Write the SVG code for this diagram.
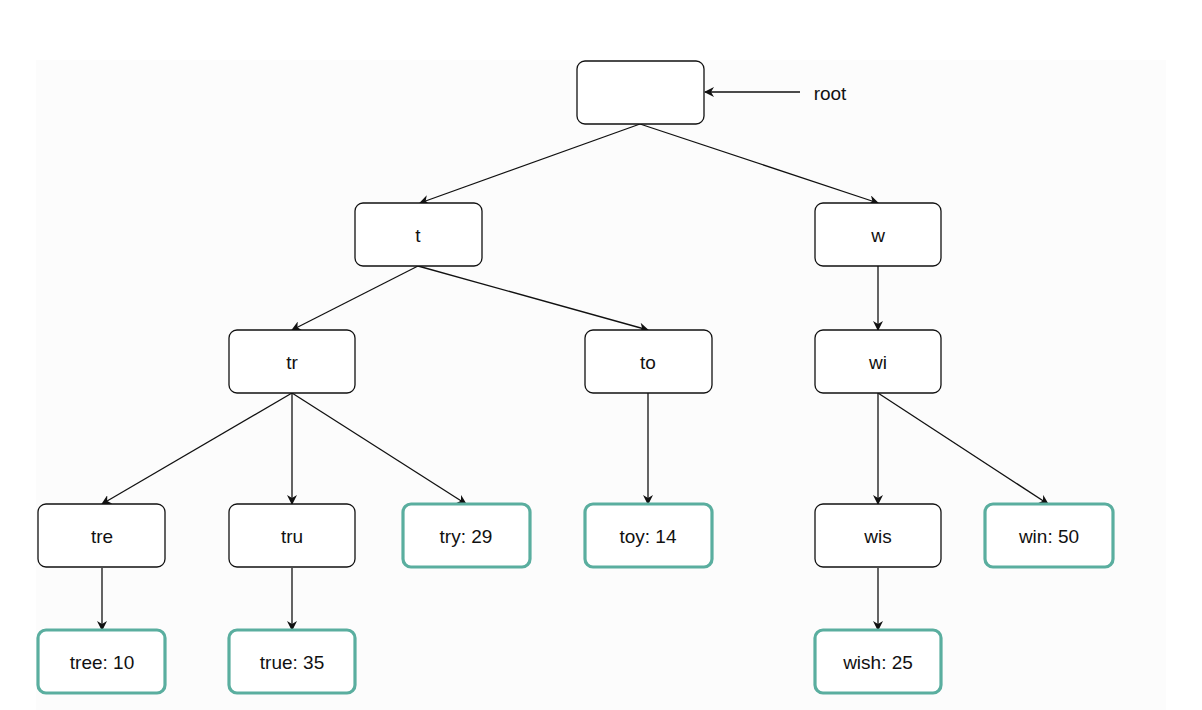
<svg xmlns="http://www.w3.org/2000/svg" width="1202" height="710" viewBox="0 0 1202 710">
<defs>
<marker id="ah" viewBox="0 0 10 10" refX="9" refY="5" markerWidth="10" markerHeight="10" markerUnits="userSpaceOnUse" orient="auto"><path d="M0,0 L10,5 L0,10 L3,5 z" fill="#111"/></marker>
<style>
.n{fill:#fff;stroke:#111;stroke-width:1.3}
.l{fill:#fff;stroke:#5aae9f;stroke-width:3.2}
text{font-family:"Liberation Sans",Arial,sans-serif;font-size:19px;fill:#111;text-anchor:middle;dominant-baseline:central}
.e{stroke:#111;stroke-width:1.3;fill:none;marker-end:url(#ah)}
</style>
</defs>
<rect width="1202" height="710" fill="#fff"/>
<rect x="36" y="60" width="1130" height="650" fill="#fcfcfc"/>
<g id="connectors">
<path class="e" d="M640,124 L420,203"/>
<path class="e" d="M640,124 L878,203"/>
<path class="e" d="M800,92 L705,92"/>
<path class="e" d="M418,266 L292,330"/>
<path class="e" d="M418,266 L648,330"/>
<path class="e" d="M292,393 L102,504"/>
<path class="e" d="M292,393 L292,504"/>
<path class="e" d="M292,393 L466,504"/>
<path class="e" d="M648,393 L648,504"/>
<path class="e" d="M878,266 L878,330"/>
<path class="e" d="M878,393 L878,504"/>
<path class="e" d="M878,393 L1048,504"/>
<path class="e" d="M102,568 L102,630"/>
<path class="e" d="M292,568 L292,630"/>
<path class="e" d="M878,568 L878,630"/>
</g>
<g id="root"><rect class="n" x="577" y="61" width="127" height="63" rx="8"/></g>
<text x="830" y="93">root</text>
<g id="t"><rect class="n" x="355" y="203" width="127" height="63" rx="8"/><text x="418" y="235">t</text></g>
<g id="w"><rect class="n" x="815" y="203" width="126" height="63" rx="8"/><text x="878" y="235">w</text></g>
<g id="tr"><rect class="n" x="229" y="330" width="126" height="63" rx="8"/><text x="292" y="362">tr</text></g>
<g id="to"><rect class="n" x="585" y="330" width="127" height="63" rx="8"/><text x="648" y="362">to</text></g>
<g id="wi"><rect class="n" x="815" y="330" width="126" height="63" rx="8"/><text x="878" y="362">wi</text></g>
<g id="tre"><rect class="n" x="38" y="504" width="127" height="63" rx="8"/><text x="102" y="536">tre</text></g>
<g id="tru"><rect class="n" x="229" y="504" width="126" height="63" rx="8"/><text x="292" y="536">tru</text></g>
<g id="try"><rect class="l" x="403" y="504" width="127" height="63" rx="8"/><text x="466" y="536">try: 29</text></g>
<g id="toy"><rect class="l" x="585" y="504" width="127" height="63" rx="8"/><text x="648" y="536">toy: 14</text></g>
<g id="wis"><rect class="n" x="815" y="504" width="126" height="63" rx="8"/><text x="878" y="536">wis</text></g>
<g id="win"><rect class="l" x="985" y="504" width="128" height="63" rx="8"/><text x="1049" y="536">win: 50</text></g>
<g id="tree"><rect class="l" x="38" y="630" width="127" height="63" rx="8"/><text x="102" y="662">tree: 10</text></g>
<g id="true"><rect class="l" x="229" y="630" width="126" height="63" rx="8"/><text x="292" y="662">true: 35</text></g>
<g id="wish"><rect class="l" x="815" y="630" width="126" height="63" rx="8"/><text x="878" y="662">wish: 25</text></g>
</svg>
